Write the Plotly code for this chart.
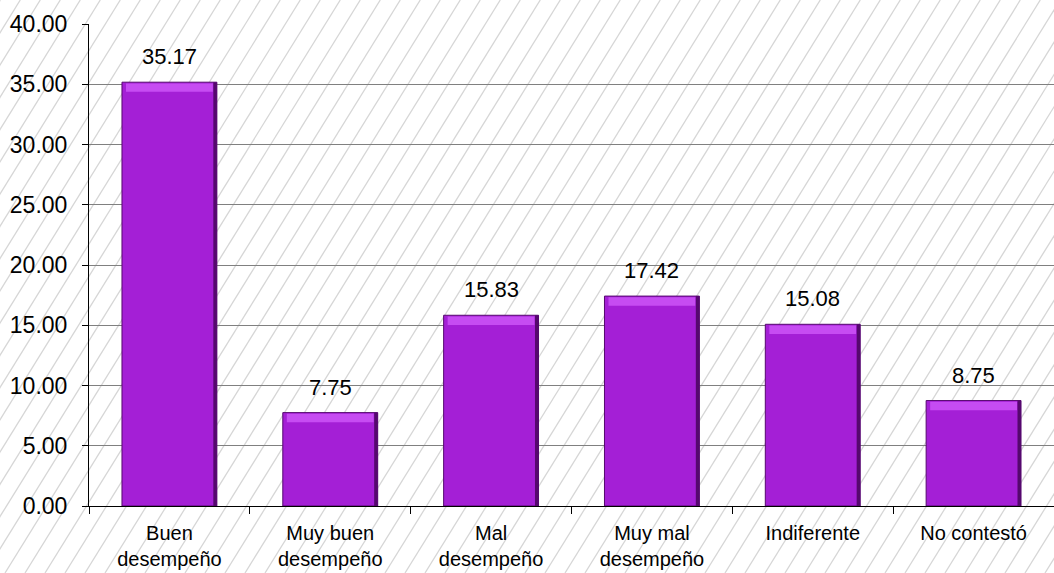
import plotly.graph_objects as go

categories = ["Buen<br>desempeño", "Muy buen<br>desempeño", "Mal<br>desempeño",
              "Muy mal<br>desempeño", "Indiferente", "No contestó"]
values = [35.17, 7.75, 15.83, 17.42, 15.08, 8.75]
y_ticks = [0, 5, 10, 15, 20, 25, 30, 35, 40]
y_tick_labels = ["0.00", "5.00", "10.00", "15.00", "20.00", "25.00", "30.00", "35.00", "40.00"]

W, H = 1054, 573
ML, MR, MT, MB = 89, 0, 24, 67
PW, PH = W - ML - MR, H - MT - MB

FONT = "Liberation Sans, Arial, sans-serif"
FACE = "#A41FD6"
DARK = "#55086E"
LIGHT = "#C64CF2"
BAR_W = 0.59

fig = go.Figure()

# main bar face
fig.add_trace(go.Bar(
    x=categories, y=values, width=BAR_W,
    marker=dict(color=FACE, line=dict(color=DARK, width=1)),
    hoverinfo="skip", showlegend=False,
))
# top highlight (bevel)
hl = 0.7
fig.add_trace(go.Bar(
    x=categories, y=[hl] * len(values), base=[v - hl - 0.1 for v in values],
    width=BAR_W - 0.05,
    marker=dict(color=LIGHT, line=dict(width=0)),
    hoverinfo="skip", showlegend=False,
))
# right dark edge (bevel)
fig.add_trace(go.Bar(
    x=categories, y=values, width=0.022, offset=BAR_W / 2 - 0.022,
    marker=dict(color=DARK, line=dict(width=0)),
    hoverinfo="skip", showlegend=False,
))

fig.update_layout(barmode="overlay")

# value labels
for c, v in zip(categories, values):
    fig.add_annotation(x=c, y=v, text=f"{v:.2f}", showarrow=False,
                       yanchor="bottom", yshift=11,
                       font=dict(family=FONT, size=22, color="#000000"))

# diagonal hatch background
shapes = []
k = 0.62
spacing = 20
x0 = -int(H * k) - spacing
while x0 < W + spacing:
    px0, py0 = x0, H
    px1, py1 = x0 + H * k, 0
    shapes.append(dict(
        type="line", xref="paper", yref="paper", layer="below",
        x0=(px0 - ML) / PW, y0=(H - MB - py0) / PH,
        x1=(px1 - ML) / PW, y1=(H - MB - py1) / PH,
        line=dict(color="#D6D6D6", width=1.3),
    ))
    x0 += spacing

fig.update_layout(
    width=W, height=H,
    margin=dict(l=ML, r=MR, t=MT, b=MB, pad=0),
    paper_bgcolor="#FFFFFF",
    plot_bgcolor="rgba(0,0,0,0)",
    shapes=shapes,
    font=dict(family=FONT, color="#000000"),
    xaxis=dict(
        showgrid=False, showline=True, linecolor="#000000", linewidth=1,
        ticks="outside", ticklen=7, tickcolor="#000000",
        tickson="boundaries", automargin=False,
        ticklabelstandoff=9,
        tickfont=dict(family=FONT, size=20, color="#000000"),
        fixedrange=True,
    ),
    yaxis=dict(
        range=[0, 40], tickvals=y_ticks, ticktext=y_tick_labels,
        showgrid=True, gridcolor="#808080", gridwidth=1,
        showline=True, linecolor="#000000", linewidth=1,
        ticks="outside", ticklen=6, tickcolor="#000000",
        ticklabelstandoff=10, automargin=False,
        tickfont=dict(family=FONT, size=23, color="#000000"),
        zeroline=False, fixedrange=True,
    ),
)

fig.write_html(
    "out.html",
    config={"displayModeBar": False},
    post_script="document.body.style.margin='0';document.body.style.overflow='hidden';",
)
